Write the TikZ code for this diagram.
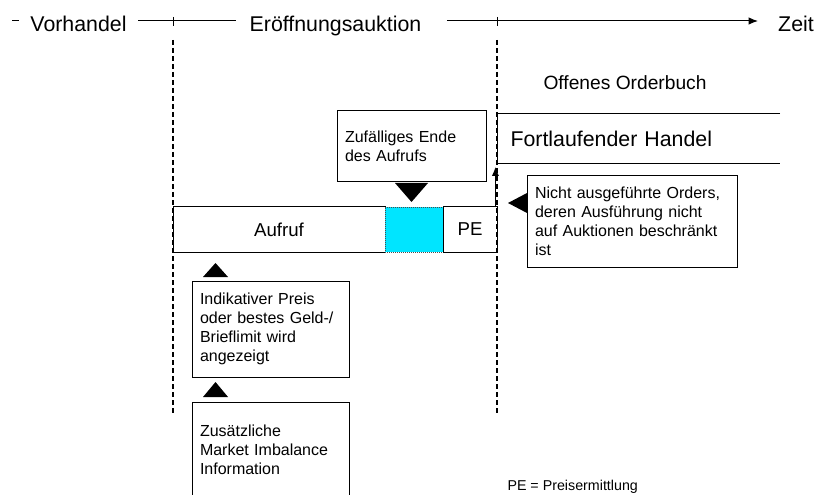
\documentclass[tikz,border=0pt]{standalone}
\usepackage{fontspec}
\setmainfont{Liberation Sans}
\usetikzlibrary{positioning,arrows.meta}

\definecolor{auktcyan}{RGB}{0,229,255}

\tikzset{every picture/.style={line width=0.75pt}}
\tikzset{
	phase/.style={inner sep=0pt, anchor=base, font=\fontsize{16}{19}\selectfont},
	infobox/.style={draw, rectangle, align=left, inner xsep=6pt, inner ysep=0pt, font=\fontsize{12}{14.25}\selectfont},
	barbox/.style={draw, rectangle, minimum height=33.75pt, inner sep=0pt, outer sep=0pt, font=\fontsize{14}{16}\selectfont},
	grenze/.style={line width=0.9pt, dash pattern={on 3.75pt off 2.25pt}},
}

\begin{document}
\begin{tikzpicture}[x=0.75pt,y=0.75pt,yscale=-1,xscale=1]
	\clip (0,0) rectangle (816,495);

	% Zeitachse
	\coordinate (ax0) at (12,21);
	\coordinate (ax1) at (758,21);
	\node[phase] (vorh) at (78.5,32) {Vorhandel};
	\node[phase] (eroe) at (335.5,32) {Eröffnungsauktion};
	\node[phase] (zeit) at (796,32) {Zeit};
	\draw [shorten >=8.25pt] (ax0) -- (vorh.west |- ax0);
	\draw [shorten <=8.25pt, shorten >=9.75pt] (vorh.east |- ax0) -- (eroe.west |- ax0);
	\draw [-{Latex[length=7pt,width=5.5pt]}, shorten <=18.75pt] (eroe.east |- ax0) -- (ax1);
	% ticks
	\draw (173,17) -- (173,26);
	\draw (497,17) -- (497,26);
	% Phasengrenzen
	\draw [grenze] (173,40) -- (173,413);
	\draw [grenze] (497,40) -- (497,415);

	% Offenes Orderbuch
	\node[inner sep=0pt, anchor=base, font=\fontsize{14.4}{17}\selectfont] (obuch) at (625,90) {Offenes Orderbuch};
	\node[anchor=west, minimum width=211.5pt, minimum height=36.75pt, text width=192pt, inner xsep=9.75pt, inner ysep=0pt, align=left, font=\fontsize{16}{19}\selectfont] (fh) at (497,139) {Fortlaufender Handel};
	\draw (fh.north east) -- (fh.north west) -- (fh.south west) -- (fh.south east);

	% Aufruf - Zufallsende - PE
	\node[barbox, minimum width=159pt] (aufruf) at (279,229.5) {Aufruf};
	\node[barbox, minimum width=43.5pt, right=0pt of aufruf, fill=auktcyan, draw=black!70, line width=0.5pt, densely dotted] (ende) {};
	\node[barbox, minimum width=40.5pt, right=0pt of ende] (pe) {PE};
	\draw [line width=1.3pt, solid, -{Latex[length=7pt,width=5.5pt]}, shorten >=2pt] ([xshift=-1.2pt]pe.north east) -- ([xshift=-1.2pt]fh.south west);

	% Erlaeuterungen
	\node[infobox, minimum width=111.75pt, minimum height=53.25pt, text width=99.75pt] (zufall) at (411.5,146.5) {Zufälliges Ende\\des Aufrufs};
	\node[infobox, minimum width=157.5pt, minimum height=68.25pt, text width=145.5pt] (nicht) at (632,221.5) {Nicht ausgeführte Orders,\\deren Ausführung nicht\\auf Auktionen beschränkt\\ist};
	\node[infobox, minimum width=117.75pt, minimum height=72pt, text width=105.75pt] (indik) at (270.5,329) {Indikativer Preis\\oder bestes Geld-/\\Brieflimit wird\\angezeigt};
	\node[infobox, minimum width=117.75pt, minimum height=72pt, text width=105.75pt] (zusatz) at (270.5,450) {Zusätzliche\\Market Imbalance\\Information};

	% Zeiger
	\fill (395,183) -- (428,183) -- (411.5,202) -- cycle;
	\fill (203,277) -- (228,277) -- (215.5,263) -- cycle;
	\fill (203,397) -- (228,397) -- (215.5,382) -- cycle;
	\fill (508,203) -- (527,193) -- (527,213) -- cycle;

	\node[inner sep=0pt, anchor=base west, font=\fontsize{10.7}{13}\selectfont] (legende) at (507,490) {PE = Preisermittlung};

\end{tikzpicture}
\end{document}
